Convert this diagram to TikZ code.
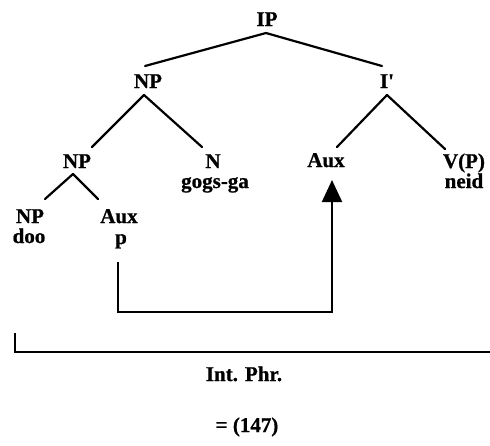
\documentclass[tikz,border=0pt]{standalone}
\usepackage{fontspec}
\setmainfont{Liberation Serif}
\usetikzlibrary{calc,arrows.meta}
\begin{document}
\begin{tikzpicture}[x=1pt,y=-1pt,
  lab/.style={inner sep=0pt,anchor=base,font=\fontsize{21}{23}\selectfont\bfseries\addfontfeature{FakeBold=0.8}},
  edge/.style={line width=2.2pt,line cap=round},
  mv/.style={line width=2.2pt,-{Triangle[width=20pt,length=22pt]}}]
\useasboundingbox (0,0) rectangle (490,445);
% labels
\node[lab] (IP)   at (267,26)  {IP};
\node[lab] (NPa)  at (148,88)  {NP};
\node[lab] (Ib)   at (387,88)  {I\textquotesingle};
\node[lab] (NPb)  at (77,168)  {NP};
\node[lab] (N)    at (213,168) {N};
\node[lab] (gg)   at (215,188) {gogs-ga};
\node[lab] (AuxI) at (326,167) {Aux};
\node[lab] (VP)   at (464,168) {V(P)};
\node[lab] (neid) at (464,188) {neid};
\node[lab] (NPc)  at (30,223)  {NP};
\node[lab] (doo)  at (29,243)  {doo};
\node[lab] (AuxD) at (119,223) {Aux};
\node[lab] (p)    at (121,244) {p};
\node[lab] (int)  at (244,381) {Int. Phr.};
\node[lab] (eq)   at (247,432) {= (147)};
% tree branches
\draw[edge] ($(IP.base)+(-1,7)$) -- ($(NPa.base)+(-3,-22)$);
\draw[edge] ($(IP.base)+(-1,7)$) -- ($(Ib.base)+(-5,-22)$);
\draw[edge] ($(NPa.base)+(-4,7)$) -- ($(NPb.base)+(15,-21)$);
\draw[edge] ($(NPa.base)+(-4,7)$) -- ($(N.base)+(-11,-21)$);
\draw[edge] ($(Ib.base)+(0,7)$) -- ($(AuxI.base)+(11,-20)$);
\draw[edge] ($(Ib.base)+(0,7)$) -- ($(VP.base)+(-19,-19)$);
\draw[edge] ($(NPb.base)+(-4,6)$) -- ($(NPc.base)+(15,-24)$);
\draw[edge] ($(NPb.base)+(-4,6)$) -- ($(AuxD.base)+(-21,-24)$);
% movement arrow
\draw[mv] ($(p.base)+(-3,18)$) -- ++(0,50) -| ($(AuxI.base)+(6,13)$);
% intonational phrase bracket
\coordinate (bl) at (15,333);
\coordinate (br) at (492,352);
\draw[line width=1.8pt] (bl) |- (br);
\end{tikzpicture}
\end{document}
